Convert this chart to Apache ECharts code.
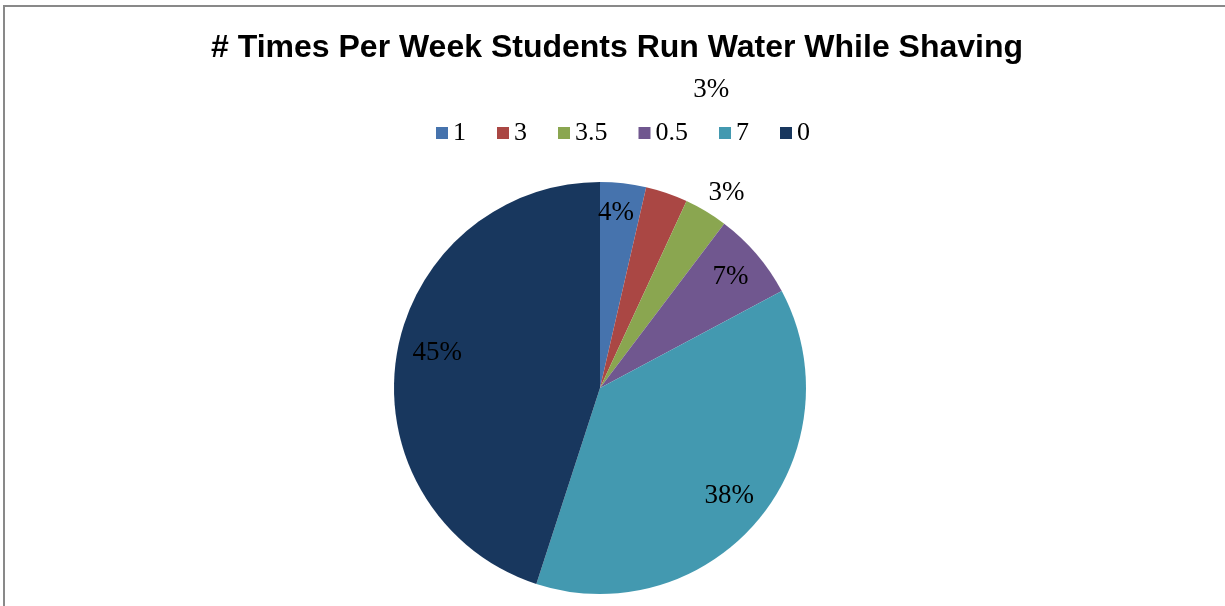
<!DOCTYPE html>
<html>
<head>
<meta charset="utf-8">
<script src="https://cdn.jsdelivr.net/npm/echarts@6/dist/echarts.min.js"></script>
<style>
  html, body { margin: 0; padding: 0; background: #ffffff; }
  #chart { width: 1225px; height: 606px; }
</style>
</head>
<body>
<div id="chart"></div>
<script>
// Answers: how many times per week a student leaves the tap running while shaving
const categories = ['1', '3', '3.5', '0.5', '7', '0'];
// Share of students (percent) for each answer
const shares = [3.6, 3.3, 3.4, 6.9, 37.8, 45.0];
const colors = ['#4673ad', '#aa4744', '#8aa650', '#70578f', '#4399b0', '#18375e'];
// Label nudges away from the default inside position, per slice
const labelShift = [
  [4, -70],
  [77, -198],
  [72, -104],
  [50, -42],
  [48, 40],
  [-58, -19]
];

const chart = echarts.init(document.getElementById('chart'), null, { renderer: 'canvas' });

chart.setOption({
  backgroundColor: '#ffffff',
  animation: false,
  color: colors,
  graphic: [{
    type: 'rect',
    shape: { x: 4, y: 6, width: 1400, height: 800 },
    style: { fill: 'none', stroke: '#898989', lineWidth: 2 },
    silent: true
  }],
  title: {
    text: '# Times Per Week Students Run Water While Shaving',
    left: 206,
    top: 27,
    textStyle: {
      fontFamily: 'Liberation Sans',
      fontWeight: 'bold',
      fontSize: 32,
      color: '#000000'
    }
  },
  legend: {
    data: categories,
    left: 431,
    top: 115,
    itemWidth: 12,
    itemHeight: 12,
    itemGap: 31,
    icon: 'rect',
    textStyle: {
      fontFamily: 'Liberation Serif',
      fontSize: 26,
      color: '#000000'
    }
  },
  series: [{
    type: 'pie',
    center: [600, 388],
    radius: 206,
    startAngle: 90,
    clockwise: true,
    avoidLabelOverlap: false,
    data: categories.map((name, i) => ({ name: name, value: shares[i] })),
    label: {
      show: true,
      position: 'inside',
      formatter: p => Math.round(p.percent) + '%',
      fontFamily: 'Liberation Serif',
      fontSize: 27,
      color: '#000000'
    },
    labelLine: { show: false },
    labelLayout: p => ({ dx: labelShift[p.dataIndex][0], dy: labelShift[p.dataIndex][1] }),
    itemStyle: { borderWidth: 0 },
    emphasis: { disabled: true }
  }]
});
</script>
</body>
</html>
